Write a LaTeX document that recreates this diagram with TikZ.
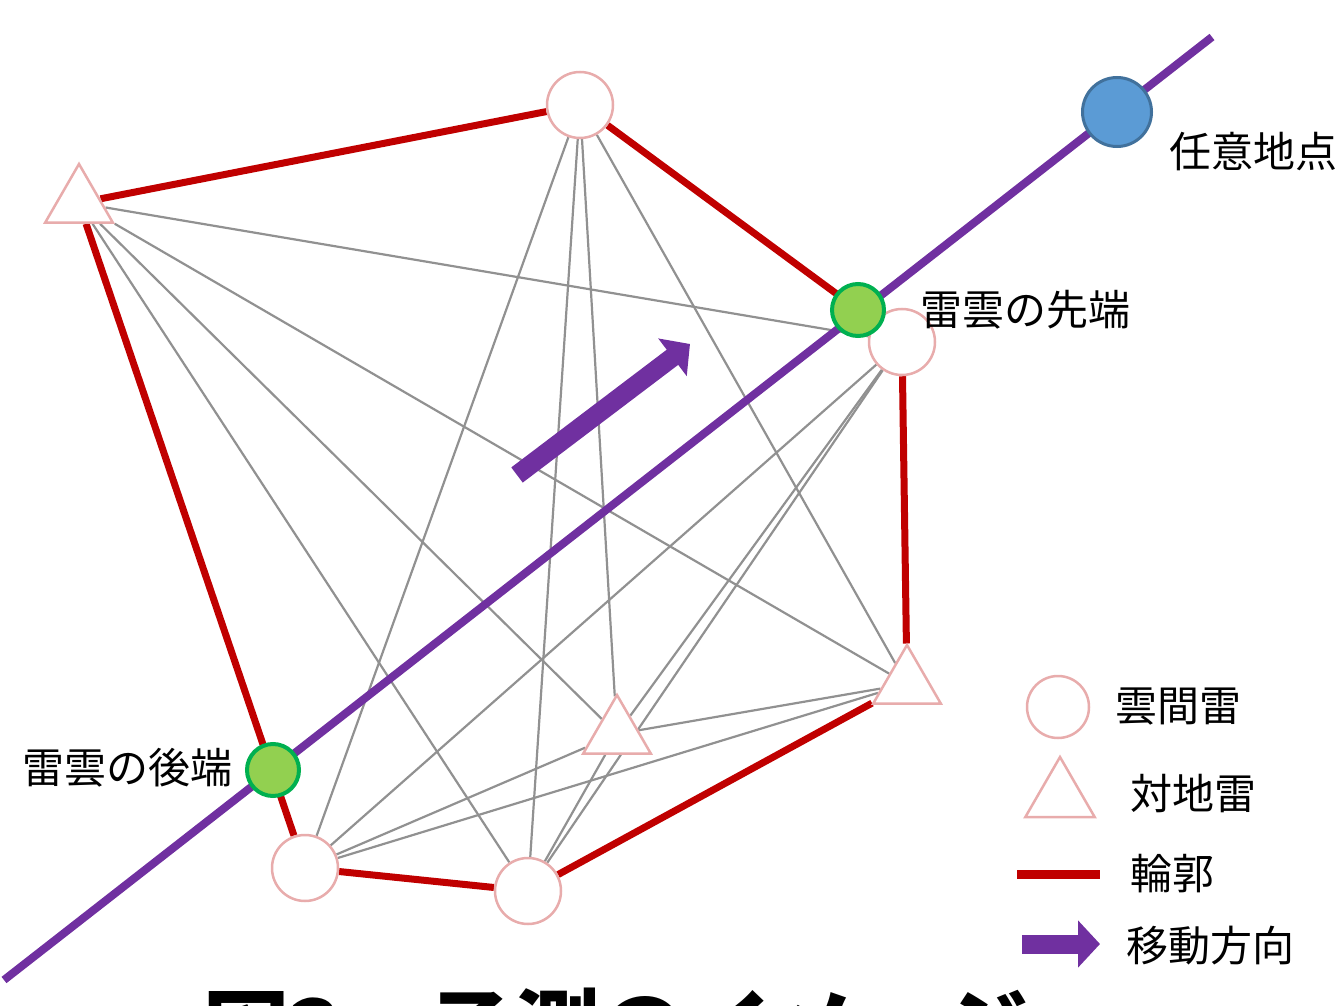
\documentclass[tikz,border=0pt]{standalone}
\usepackage{fontspec}
\newfontfamily\jp{Noto Sans CJK JP}
\usetikzlibrary{arrows.meta,shapes.geometric,backgrounds}
\definecolor{hull}{RGB}{192,0,0}
\definecolor{mv}{RGB}{112,48,160}
\definecolor{pinkline}{RGB}{232,172,172}
\definecolor{web}{RGB}{145,145,145}
\definecolor{gfill}{RGB}{146,208,80}
\definecolor{gline}{RGB}{0,176,80}
\definecolor{bfill}{RGB}{91,155,213}
\definecolor{bline}{RGB}{65,113,156}
\begin{document}
\begin{tikzpicture}[x=1pt,y=-1pt,
  cloud/.style={circle,draw=pinkline,line width=2.5pt,fill=white,minimum size=66pt,inner sep=0pt},
  ground/.style={regular polygon,regular polygon sides=3,draw=pinkline,line width=2.5pt,fill=white,minimum size=78pt,inner sep=0pt},
  webline/.style={draw=web,line width=2.2pt},
  hullline/.style={draw=hull,line width=7pt},
  track/.style={draw=mv,line width=8pt},
  gdot/.style={circle,fill=gfill,draw=gline,line width=4pt,minimum size=52pt,inner sep=0pt},
  bdot/.style={circle,fill=bfill,draw=bline,line width=3pt,minimum size=69pt,inner sep=0pt},
  mvarrow/.style={draw=mv,line width=19pt,-{Triangle[length=22pt,width=46pt]}},
  lab/.style={font=\jp\fontsize{42}{50}\selectfont,inner sep=0pt,anchor=west,text=black}
]
\useasboundingbox (0,0) rectangle (1342,1006);

% vertices
\node[ground] (A) at (79,203) {};
\node[cloud]  (B) at (580,105) {};
\node[cloud]  (C) at (902,342) {};
\node[ground] (D) at (907,684) {};
\node[ground] (E) at (617,734) {};
\node[cloud]  (F) at (528,891) {};
\node[cloud]  (G) at (305,868) {};

\begin{scope}[on background layer]
  \draw[webline] (A) -- (C);
  \draw[webline] (A) -- (D);
  \draw[webline] (A) -- (E);
  \draw[webline] (A) -- (F);
  \draw[webline] (B) -- (G);
  \draw[webline] (B) -- (F);
  \draw[webline] (B) -- (E);
  \draw[webline] (B) -- (D);
  \draw[webline] (C) -- (G);
  \draw[webline] (C) -- (F);
  \draw[webline] (C) -- (E);
  \draw[webline] (D) -- (G);
  \draw[webline] (D) -- (E);
  \draw[webline] (E) -- (G);
  \draw[webline] (E) -- (F);
  \draw[hullline] (A) -- (B);
  \draw[hullline] (B) -- (C);
  \draw[hullline] (C) -- (D);
  \draw[hullline] (D) -- (F);
  \draw[hullline] (F) -- (G);
  \draw[hullline] (G) -- (A);
\end{scope}

% movement track
\coordinate (t1) at (4,980);
\coordinate (t2) at (1212,37);
\draw[track] (t1) -- (t2);

\node[gdot] (front) at (858,310) {};
\node[gdot] (rear) at (273,770) {};
\node[bdot] (point) at (1117,112) {};

% movement arrow
\coordinate (m1) at (517,475);
\coordinate (m2) at (690,344);
\draw[mvarrow] (m1) -- (m2);

% labels
\node[lab] (lpoint) at (1169,152) {任意地点};
\node[lab] (lfront) at (920,310) {雷雲の先端};
\node[lab] (lrear) at (22,768) {雷雲の後端};

% legend
\node[cloud,minimum size=62pt] (k1) at (1058,707) {};
\node[lab] (k1t) at (1115,707) {雲間雷};
\node[ground,minimum size=80pt] (k2) at (1060,797) {};
\node[lab] (k2t) at (1130,794) {対地雷};
\coordinate (k3a) at (1017,874);
\coordinate (k3b) at (1100,874);
\draw[draw=hull,line width=9pt] (k3a) -- (k3b);
\node[lab] (k3t) at (1130,874) {輪郭};
\coordinate (k4a) at (1022,944);
\coordinate (k4b) at (1100,944);
\draw[mvarrow] (k4a) -- (k4b);
\node[lab] (k4t) at (1126,946) {移動方向};

% title (cut off at the page bottom, as in the reference)
\node[font=\jp\bfseries\fontsize{86}{100}\selectfont,anchor=base,inner sep=0pt] (title) at (616,1061) {図3　予測のイメージ};
\end{tikzpicture}
\end{document}
